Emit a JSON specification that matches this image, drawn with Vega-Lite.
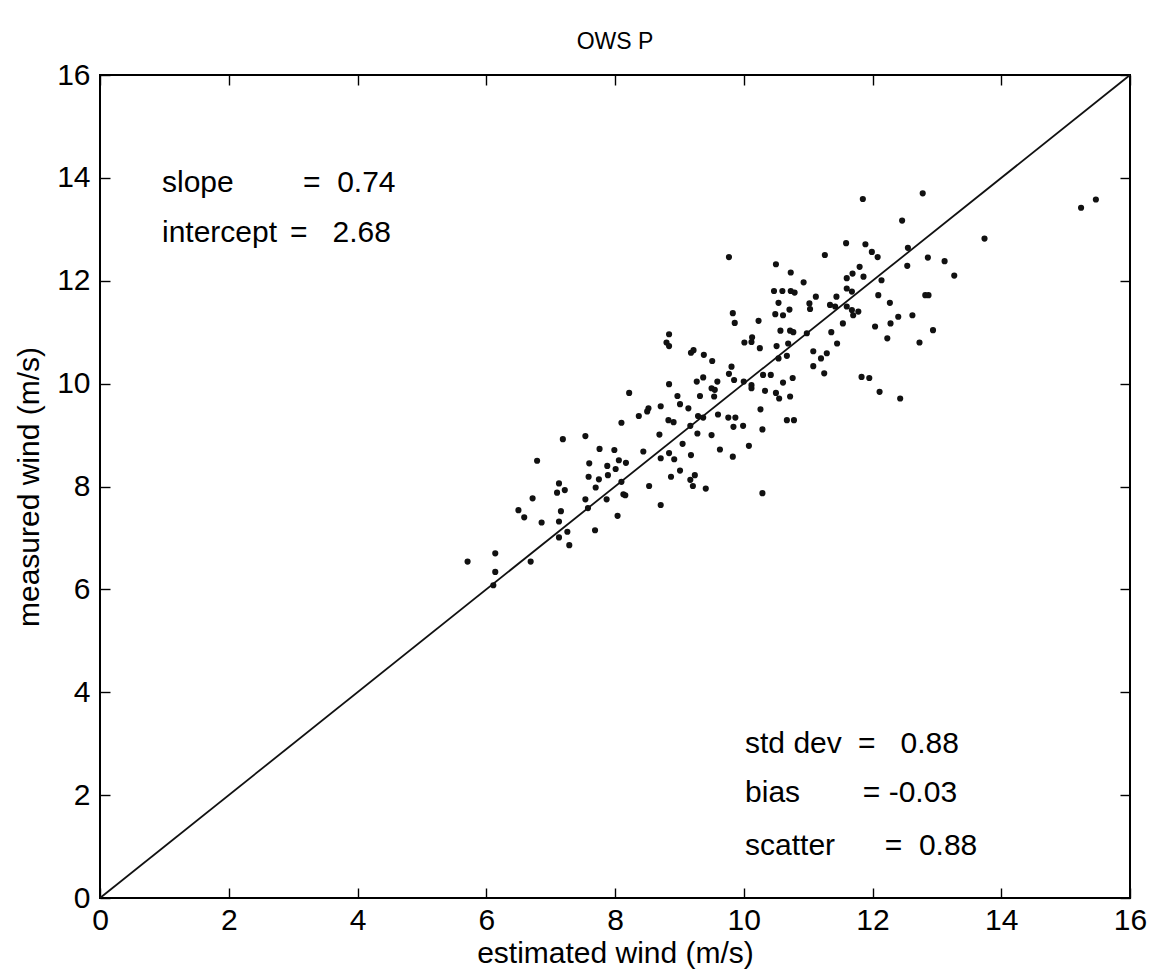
{
  "$schema": "https://vega.github.io/schema/vega-lite/v6.json",
  "width": 1030,
  "height": 823,
  "autosize": {"type": "none"},
  "padding": {"left": 100, "top": 75, "right": 34, "bottom": 81},
  "background": "white",
  "title": {"text": "OWS P", "fontSize": 23, "font": "Liberation Sans", "fontWeight": "normal", "color": "black", "baseline": "alphabetic", "offset": -12, "anchor": "middle", "frame": "group"},
  "config": {
    "view": {"stroke": "black", "strokeWidth": 2},
    "axis": {"grid": false, "domain": false, "tickColor": "black", "tickWidth": 1.4, "labelFont": "Liberation Sans", "labelFontSize": 30, "labelColor": "black", "titleFont": "Liberation Sans", "titleFontSize": 30, "titleFontWeight": "normal", "titleColor": "black"}
  },
  "resolve": {"axis": {"x": "independent", "y": "independent"}},
  "datasets": {
    "winds": [
      {"estimated":5.71,"measured":6.54},{"estimated":6.14,"measured":6.70},{"estimated":6.14,"measured":6.34},{"estimated":6.11,"measured":6.08},{"estimated":6.69,"measured":6.54},{"estimated":6.50,"measured":7.54},{"estimated":6.59,"measured":7.40},{"estimated":6.72,"measured":7.77},{"estimated":6.79,"measured":8.50},{"estimated":6.86,"measured":7.30},
      {"estimated":7.13,"measured":8.06},{"estimated":7.10,"measured":7.88},{"estimated":7.16,"measured":7.52},{"estimated":7.13,"measured":7.32},{"estimated":7.13,"measured":7.01},{"estimated":7.26,"measured":7.12},{"estimated":7.29,"measured":6.86},{"estimated":7.19,"measured":8.92},{"estimated":7.22,"measured":7.93},{"estimated":7.54,"measured":8.98},
      {"estimated":7.54,"measured":7.75},{"estimated":7.58,"measured":7.58},{"estimated":7.69,"measured":7.15},{"estimated":7.60,"measured":8.45},{"estimated":7.59,"measured":8.19},{"estimated":7.76,"measured":8.73},{"estimated":7.75,"measured":8.14},{"estimated":7.70,"measured":7.98},{"estimated":7.87,"measured":7.75},{"estimated":7.89,"measured":8.22},
      {"estimated":7.88,"measured":8.40},{"estimated":7.99,"measured":8.71},{"estimated":8.01,"measured":8.34},{"estimated":8.06,"measured":8.51},{"estimated":8.17,"measured":8.46},{"estimated":8.10,"measured":8.09},{"estimated":8.13,"measured":7.85},{"estimated":8.16,"measured":7.83},{"estimated":8.04,"measured":7.43},{"estimated":8.10,"measured":9.24},
      {"estimated":8.37,"measured":9.37},{"estimated":8.44,"measured":8.68},{"estimated":8.53,"measured":8.01},{"estimated":8.22,"measured":9.82},{"estimated":8.52,"measured":9.52},{"estimated":8.50,"measured":9.46},
      {"estimated":9.83,"measured":11.37},{"estimated":9.86,"measured":11.18},{"estimated":10.54,"measured":11.57},{"estimated":10.49,"measured":11.35},{"estimated":10.61,"measured":11.33},{"estimated":10.71,"measured":11.44},{"estimated":10.23,"measured":11.22},{"estimated":11.34,"measured":11.53},{"estimated":11.42,"measured":11.50},{"estimated":11.68,"measured":11.43},
      {"estimated":11.78,"measured":11.40},{"estimated":11.70,"measured":11.33},{"estimated":12.27,"measured":11.57},{"estimated":12.28,"measured":11.17},{"estimated":12.40,"measured":11.30},{"estimated":12.04,"measured":11.11},{"estimated":11.54,"measured":11.17},{"estimated":11.36,"measured":11.00},{"estimated":12.23,"measured":10.88},{"estimated":10.57,"measured":11.03},
      {"estimated":10.72,"measured":11.03},{"estimated":10.77,"measured":11.00},{"estimated":10.98,"measured":10.98},{"estimated":10.13,"measured":10.90},{"estimated":10.12,"measured":10.81},{"estimated":10.01,"measured":10.80},{"estimated":10.25,"measured":10.69},{"estimated":10.51,"measured":10.73},{"estimated":10.69,"measured":10.78},{"estimated":11.45,"measured":10.78},
      {"estimated":11.08,"measured":10.63},{"estimated":11.29,"measured":10.59},{"estimated":10.67,"measured":10.54},{"estimated":10.54,"measured":10.49},{"estimated":11.20,"measured":10.49},{"estimated":11.08,"measured":10.34},{"estimated":11.25,"measured":10.20},{"estimated":11.83,"measured":10.13},{"estimated":11.95,"measured":10.11},{"estimated":12.11,"measured":9.84},
      {"estimated":12.43,"measured":9.71},{"estimated":8.84,"measured":10.96},{"estimated":8.80,"measured":10.80},{"estimated":8.84,"measured":10.73},{"estimated":9.18,"measured":10.60},{"estimated":9.22,"measured":10.65},{"estimated":9.38,"measured":10.56},{"estimated":9.51,"measured":10.44},{"estimated":9.81,"measured":10.33},{"estimated":9.77,"measured":10.19},
      {"estimated":9.85,"measured":10.07},{"estimated":9.59,"measured":10.04},{"estimated":9.37,"measured":10.12},{"estimated":9.27,"measured":10.04},{"estimated":8.84,"measured":9.99},{"estimated":9.50,"measured":9.91},{"estimated":9.55,"measured":9.88},{"estimated":9.54,"measured":9.75},{"estimated":9.32,"measured":9.76},{"estimated":8.97,"measured":9.76},
      {"estimated":9.01,"measured":9.60},{"estimated":8.71,"measured":9.56},{"estimated":9.14,"measured":9.52},{"estimated":8.83,"measured":9.29},{"estimated":8.91,"measured":9.25},{"estimated":9.17,"measured":9.18},{"estimated":9.29,"measured":9.37},{"estimated":9.37,"measured":9.34},{"estimated":9.60,"measured":9.40},{"estimated":10.12,"measured":9.97},
      {"estimated":10.12,"measured":9.91},{"estimated":10.00,"measured":10.04},{"estimated":10.30,"measured":10.17},{"estimated":10.42,"measured":10.17},{"estimated":10.33,"measured":9.86},{"estimated":10.50,"measured":9.82},{"estimated":10.55,"measured":9.71},{"estimated":10.61,"measured":10.02},{"estimated":10.76,"measured":10.11},{"estimated":10.72,"measured":9.75},
      {"estimated":10.26,"measured":9.50},{"estimated":10.29,"measured":9.11},{"estimated":10.67,"measured":9.29},{"estimated":10.78,"measured":9.29},{"estimated":9.76,"measured":9.34},{"estimated":9.87,"measured":9.34},{"estimated":9.84,"measured":9.16},{"estimated":9.99,"measured":9.18},{"estimated":9.50,"measured":9.00},{"estimated":9.28,"measured":9.03},
      {"estimated":9.05,"measured":8.83},{"estimated":8.69,"measured":9.01},{"estimated":8.71,"measured":8.55},{"estimated":8.84,"measured":8.65},{"estimated":8.92,"measured":8.53},{"estimated":9.18,"measured":8.61},{"estimated":9.63,"measured":8.72},{"estimated":10.08,"measured":8.79},{"estimated":9.83,"measured":8.58},{"estimated":9.01,"measured":8.31},
      {"estimated":8.87,"measured":8.19},{"estimated":9.24,"measured":8.22},{"estimated":9.17,"measured":8.13},{"estimated":9.21,"measured":8.01},{"estimated":9.41,"measured":7.96},{"estimated":8.71,"measured":7.64},{"estimated":10.29,"measured":7.87},
      {"estimated":9.77,"measured":12.46},{"estimated":11.26,"measured":12.50},{"estimated":10.50,"measured":12.32},{"estimated":10.73,"measured":12.16},{"estimated":10.93,"measured":11.97},{"estimated":10.47,"measured":11.80},{"estimated":10.60,"measured":11.80},{"estimated":10.73,"measured":11.80},{"estimated":10.79,"measured":11.77},{"estimated":11.12,"measured":11.69},
      {"estimated":11.02,"measured":11.56},{"estimated":11.03,"measured":11.45},{"estimated":11.85,"measured":13.59},{"estimated":11.59,"measured":12.73},{"estimated":11.89,"measured":12.71},{"estimated":11.99,"measured":12.56},{"estimated":12.08,"measured":12.46},{"estimated":11.80,"measured":12.27},{"estimated":11.86,"measured":12.08},{"estimated":11.69,"measured":12.14},
      {"estimated":11.60,"measured":12.05},{"estimated":12.14,"measured":12.01},{"estimated":11.44,"measured":11.69},{"estimated":11.60,"measured":11.85},{"estimated":11.68,"measured":11.79},{"estimated":12.09,"measured":11.72},{"estimated":12.55,"measured":12.64},{"estimated":11.60,"measured":11.50},
      {"estimated":12.78,"measured":13.70},{"estimated":12.46,"measured":13.17},{"estimated":12.54,"measured":12.29},{"estimated":12.86,"measured":12.45},{"estimated":13.12,"measured":12.38},{"estimated":13.74,"measured":12.82},{"estimated":13.27,"measured":12.10},{"estimated":12.82,"measured":11.72},{"estimated":12.87,"measured":11.72},{"estimated":12.62,"measured":11.33},
      {"estimated":12.94,"measured":11.04},{"estimated":12.73,"measured":10.80},{"estimated":15.24,"measured":13.42},{"estimated":15.47,"measured":13.58}
    ]
  },
  "layer": [
    {
      "data": {"values": [{"estimated": 0, "measured": 0}, {"estimated": 16, "measured": 16}]},
      "mark": {"type": "line", "color": "#111111", "strokeWidth": 1.8},
      "encoding": {
        "x": {"field": "estimated", "type": "quantitative", "scale": {"domain": [0, 16], "nice": false, "zero": false},
              "axis": {"orient": "bottom", "values": [0,2,4,6,8,10,12,14,16], "tickSize": -10, "labelPadding": 17, "title": "estimated wind (m/s)", "titlePadding": 3, "labelFlush": false}},
        "y": {"field": "measured", "type": "quantitative", "scale": {"domain": [0, 16], "nice": false, "zero": false},
              "axis": {"orient": "left", "values": [0,2,4,6,8,10,12,14,16], "tickSize": -10, "labelPadding": 20, "title": "measured wind (m/s)", "titlePadding": 12, "labelFlush": false}}
      }
    },
    {
      "data": {"name": "winds"},
      "mark": {"type": "circle", "color": "#111111", "size": 38, "opacity": 1},
      "encoding": {
        "x": {"field": "estimated", "type": "quantitative", "axis": {"orient": "top", "values": [0,2,4,6,8,10,12,14,16], "tickSize": -10, "labels": false, "title": null}},
        "y": {"field": "measured", "type": "quantitative", "axis": {"orient": "right", "values": [0,2,4,6,8,10,12,14,16], "tickSize": -10, "labels": false, "title": null}}
      }
    },
    {"data": {"values": [{"t": "slope"}]}, "mark": {"type": "text", "align": "left", "baseline": "alphabetic", "fontSize": 30, "font": "Liberation Sans", "color": "black"},
     "encoding": {"x": {"datum": 0.963, "type": "quantitative", "axis": null}, "y": {"datum": 13.72, "type": "quantitative", "axis": null}, "text": {"field": "t"}}},
    {"data": {"values": [{"t": "=\u00a0\u00a00.74"}]}, "mark": {"type": "text", "align": "left", "baseline": "alphabetic", "fontSize": 30, "font": "Liberation Sans", "color": "black"},
     "encoding": {"x": {"datum": 3.153, "type": "quantitative", "axis": null}, "y": {"datum": 13.72, "type": "quantitative", "axis": null}, "text": {"field": "t"}}},
    {"data": {"values": [{"t": "intercept"}]}, "mark": {"type": "text", "align": "left", "baseline": "alphabetic", "fontSize": 30, "font": "Liberation Sans", "color": "black"},
     "encoding": {"x": {"datum": 0.963, "type": "quantitative", "axis": null}, "y": {"datum": 12.75, "type": "quantitative", "axis": null}, "text": {"field": "t"}}},
    {"data": {"values": [{"t": "=\u00a0\u00a0\u00a02.68"}]}, "mark": {"type": "text", "align": "left", "baseline": "alphabetic", "fontSize": 30, "font": "Liberation Sans", "color": "black"},
     "encoding": {"x": {"datum": 2.951, "type": "quantitative", "axis": null}, "y": {"datum": 12.75, "type": "quantitative", "axis": null}, "text": {"field": "t"}}},
    {"data": {"values": [{"t": "std dev"}]}, "mark": {"type": "text", "align": "left", "baseline": "alphabetic", "fontSize": 30, "font": "Liberation Sans", "color": "black"},
     "encoding": {"x": {"datum": 10.02, "type": "quantitative", "axis": null}, "y": {"datum": 2.82, "type": "quantitative", "axis": null}, "text": {"field": "t"}}},
    {"data": {"values": [{"t": "=\u00a0\u00a0\u00a00.88"}]}, "mark": {"type": "text", "align": "left", "baseline": "alphabetic", "fontSize": 30, "font": "Liberation Sans", "color": "black"},
     "encoding": {"x": {"datum": 11.775, "type": "quantitative", "axis": null}, "y": {"datum": 2.82, "type": "quantitative", "axis": null}, "text": {"field": "t"}}},
    {"data": {"values": [{"t": "bias"}]}, "mark": {"type": "text", "align": "left", "baseline": "alphabetic", "fontSize": 30, "font": "Liberation Sans", "color": "black"},
     "encoding": {"x": {"datum": 10.02, "type": "quantitative", "axis": null}, "y": {"datum": 1.87, "type": "quantitative", "axis": null}, "text": {"field": "t"}}},
    {"data": {"values": [{"t": "=\u00a0-0.03"}]}, "mark": {"type": "text", "align": "left", "baseline": "alphabetic", "fontSize": 30, "font": "Liberation Sans", "color": "black"},
     "encoding": {"x": {"datum": 11.85, "type": "quantitative", "axis": null}, "y": {"datum": 1.87, "type": "quantitative", "axis": null}, "text": {"field": "t"}}},
    {"data": {"values": [{"t": "scatter"}]}, "mark": {"type": "text", "align": "left", "baseline": "alphabetic", "fontSize": 30, "font": "Liberation Sans", "color": "black"},
     "encoding": {"x": {"datum": 10.02, "type": "quantitative", "axis": null}, "y": {"datum": 0.836, "type": "quantitative", "axis": null}, "text": {"field": "t"}}},
    {"data": {"values": [{"t": "=\u00a0\u00a00.88"}]}, "mark": {"type": "text", "align": "left", "baseline": "alphabetic", "fontSize": 30, "font": "Liberation Sans", "color": "black"},
     "encoding": {"x": {"datum": 12.19, "type": "quantitative", "axis": null}, "y": {"datum": 0.836, "type": "quantitative", "axis": null}, "text": {"field": "t"}}}
  ]
}
